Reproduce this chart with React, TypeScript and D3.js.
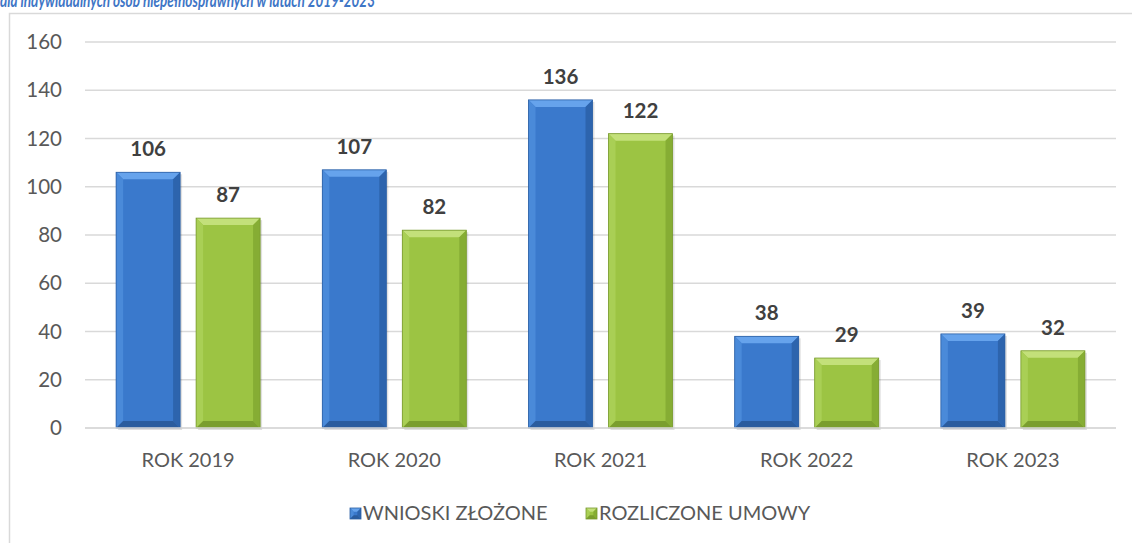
import React from "react";
import * as d3 from "d3";

const categories = ["ROK 2019", "ROK 2020", "ROK 2021", "ROK 2022", "ROK 2023"];
const seriesNames = ["WNIOSKI ZŁOŻONE", "ROZLICZONE UMOWY"];
const wnioski = [106, 107, 136, 38, 39];
const umowy = [87, 82, 122, 29, 32];
const yTicks = [0, 20, 40, 60, 80, 100, 120, 140, 160];
const title = "dla indywidualnych osób niepełnosprawnych w latach 2019-2023";

const W = 1132;
const H = 543;
const FONT = "Lato, 'Open Sans', sans-serif";

const palettes = [
  { body: "#3a79cc", top: "#66a3ec", left: "#4a8ad9", right: "#2d64ad", bottom: "#2a5c9e", stroke: "#2b5fa3" },
  { body: "#9cc443", top: "#c3e07a", left: "#a9cf55", right: "#86ad34", bottom: "#7a9e2e", stroke: "#78992f" },
];

function BevelBar({ x, y, w, h, p, shadow = true }: { x: number; y: number; w: number; h: number; p: typeof palettes[0]; shadow?: boolean }) {
  const b = Math.min(7, h / 2, w / 3);
  const x2 = x + w;
  const y2 = y + h;
  return (
    <g>
      {shadow && <rect x={x + 2} y={y + 2} width={w} height={h} fill="#000" opacity={0.12} />}
      <rect x={x} y={y} width={w} height={h} fill={p.body} />
      <polygon points={`${x},${y} ${x2},${y} ${x2 - b},${y + b} ${x + b},${y + b}`} fill={p.top} />
      <polygon points={`${x},${y} ${x + b},${y + b} ${x + b},${y2 - b} ${x},${y2}`} fill={p.left} />
      <polygon points={`${x2},${y} ${x2},${y2} ${x2 - b},${y2 - b} ${x2 - b},${y + b}`} fill={p.right} />
      <polygon points={`${x},${y2} ${x + b},${y2 - b} ${x2 - b},${y2 - b} ${x2},${y2}`} fill={p.bottom} />
      <rect x={x} y={y} width={w} height={h} fill="none" stroke={p.stroke} strokeWidth={0.8} />
    </g>
  );
}

export default function App() {
  const plotL = 85;
  const plotR = 1116;
  const plotT = 42;
  const plotB = 428;

  const y = d3.scaleLinear().domain([0, 160]).range([plotB, plotT]);
  const x0 = d3.scaleBand<string>().domain(categories).range([plotL, plotR]).paddingInner(0).paddingOuter(0);
  const bw = x0.bandwidth();
  const barW = 64;
  const gap = 16;
  const groupW = barW * 2 + gap;
  const x1 = d3
    .scaleBand<string>()
    .domain(seriesNames)
    .range([(bw - groupW) / 2, (bw + groupW) / 2])
    .paddingInner(gap / (barW + gap))
    .paddingOuter(0);

  const series = [wnioski, umowy];
  const legendX = [350, 586];

  return (
    <svg width={W} height={H} style={{ position: "absolute", left: 0, top: 0, background: "#fff" }} fontFamily={FONT}>
      <text x={0} y={7} fontSize={18} fontWeight="bold" fontStyle="italic" fill="#3f76c6" textLength={375} lengthAdjust="spacingAndGlyphs">
        {title}
      </text>
      <rect x={9.5} y={13.5} width={W + 10} height={H + 10} fill="none" stroke="#d9d9d9" strokeWidth={1.5} />
      {yTicks.map((t) => (
        <g key={t}>
          <line x1={plotL} x2={plotR} y1={y(t)} y2={y(t)} stroke="#d9d9d9" strokeWidth={1.3} />
          <text x={62} y={y(t) + 7} textAnchor="end" fontSize={20.5} fill="#595959">{t}</text>
        </g>
      ))}
      {categories.map((c, i) => (
        <g key={c}>
          {series.map((s, si) => {
            const bx = (x0(c) as number) + (x1(seriesNames[si]) as number);
            const by = y(s[i]);
            return (
              <g key={si}>
                <BevelBar x={bx} y={by} w={x1.bandwidth()} h={plotB - by} p={palettes[si]} />
                <text x={bx + x1.bandwidth() / 2} y={by - 16} textAnchor="middle" fontSize={20.5} fontWeight="bold" fill="#404040">{s[i]}</text>
              </g>
            );
          })}
          <text x={(x0(c) as number) + bw / 2} y={467} textAnchor="middle" fontSize={20} fill="#595959">{c}</text>
        </g>
      ))}
      <line x1={plotL} x2={plotR} y1={plotB} y2={plotB} stroke="#d9d9d9" strokeWidth={1.3} />
      {seriesNames.map((n, si) => (
        <g key={n}>
          <BevelBar x={legendX[si]} y={508} w={11} h={11} p={palettes[si]} shadow={false} />
          <text x={legendX[si] + 13} y={520} fontSize={20} fill="#595959">{n}</text>
        </g>
      ))}
    </svg>
  );
}
